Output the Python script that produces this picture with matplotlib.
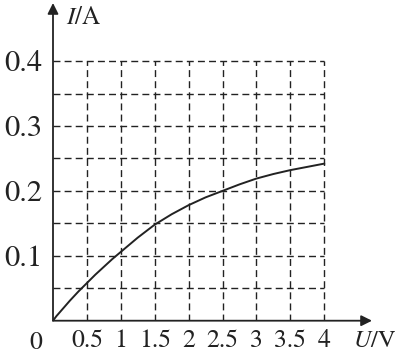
import matplotlib
matplotlib.use("Agg")
import matplotlib.pyplot as plt

# I-U curve
U = [0, 0.05, 0.1, 0.175, 0.25, 0.375, 0.5, 0.625, 0.75, 0.875, 1.0, 1.25, 1.5, 1.75, 2.0, 2.25, 2.5, 2.75, 3.0, 3.25, 3.5, 3.75, 4.0]
I = [0, 0.007, 0.013, 0.022, 0.031, 0.045, 0.058, 0.071, 0.083, 0.095, 0.106, 0.128, 0.148, 0.164, 0.178, 0.19, 0.2, 0.21, 0.219, 0.226, 0.232, 0.237, 0.242]

u_ticks = [0.5, 1, 1.5, 2, 2.5, 3, 3.5, 4]
u_labels = ["0.5", "1", "1.5", "2", "2.5", "3", "3.5", "4"]
i_ticks = [0.1, 0.2, 0.3, 0.4]
i_labels = ["0.1", "0.2", "0.3", "0.4"]
i_grid = [0.05, 0.1, 0.15, 0.2, 0.25, 0.3, 0.35, 0.4]

plt.rcParams["font.family"] = ["STIXGeneral", "DejaVu Serif"]
plt.rcParams["mathtext.fontset"] = "stix"

xmax = 4.705
ymax = 0.4895
col = "#222222"

fig = plt.figure(figsize=(3.95, 3.55), dpi=100)
ax = fig.add_axes([53 / 395, (355 - 320.7) / 355, 319 / 395, 317.7 / 355])
ax.set_xlim(0, xmax)
ax.set_ylim(0, ymax)
for s in ax.spines.values():
    s.set_visible(False)

# dashed grid
dash = (0, (5, 3))
for v in u_ticks:
    ax.plot([v, v], [0, max(i_grid)], color=col, lw=1.0, ls=dash)
for h in i_grid:
    ax.plot([0, max(u_ticks)], [h, h], color=col, lw=1.0, ls=dash)

# axes with arrows
arr = dict(arrowstyle="-|>", color=col, lw=1.3, mutation_scale=16, shrinkA=0, shrinkB=0)
ax.annotate("", xy=(xmax, 0), xytext=(0, 0), arrowprops=arr, annotation_clip=False)
ax.annotate("", xy=(0, ymax), xytext=(0, 0), arrowprops=arr, annotation_clip=False)

ax.plot(U, I, color=col, lw=1.4)

ax.set_xticks(u_ticks, u_labels, fontsize=18.5)
ax.set_yticks(i_ticks, i_labels, fontsize=22)
ax.tick_params(length=0, colors=col)
ax.tick_params(axis="x", pad=6)
ax.tick_params(axis="y", pad=8)

ax.text(-0.26, -0.0155, "0", fontsize=18.5, color=col, ha="center", va="top")
ax.text(0.19, 0.466, "$I$/A", fontsize=18, color=col, ha="left", va="center")
ax.text(4.43, -0.0155, "$U$/V", fontsize=17.5, color=col, ha="left", va="top")

fig.savefig("out.png", dpi=100)
